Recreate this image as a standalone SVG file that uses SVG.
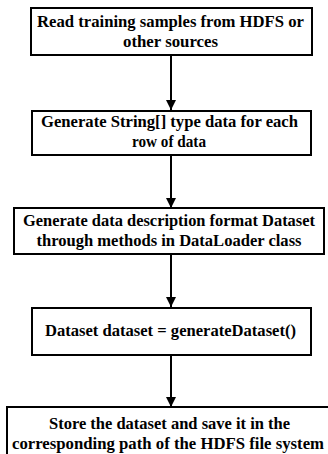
<svg xmlns="http://www.w3.org/2000/svg" width="328" height="454" viewBox="0 0 328 454">
<defs>
<style>
.box{fill:#fff;stroke:#000;stroke-width:2}
.t{font-weight:bold;font-size:17.5px;text-anchor:middle;fill:#000}
.c{stroke:#000;stroke-width:2;fill:none}
</style>
<marker id="ah" viewBox="0 0 10 10" refX="10" refY="5" markerWidth="10" markerHeight="10" markerUnits="userSpaceOnUse" orient="auto">
<path d="M0,0 L10,5 L0,10 Z" fill="#000"/>
</marker>
</defs>
<rect width="328" height="454" fill="#fff"/>
<g id="connectors">
<line class="c" x1="171" y1="55" x2="171" y2="110" marker-end="url(#ah)"/>
<line class="c" x1="171" y1="155" x2="171" y2="208" marker-end="url(#ah)"/>
<line class="c" x1="171" y1="254" x2="171" y2="307" marker-end="url(#ah)"/>
<line class="c" x1="171" y1="356" x2="171" y2="407" marker-end="url(#ah)"/>
</g>
<g font-family="'Liberation Serif', 'Times New Roman', Tinos, serif">
<g id="n1">
<rect class="box" x="31" y="8" width="281" height="47"/>
<text class="t" x="170.5" y="27" textLength="267" lengthAdjust="spacingAndGlyphs">Read training samples from HDFS or</text>
<text class="t" x="170.5" y="47" textLength="95" lengthAdjust="spacingAndGlyphs">other sources</text>
</g>
<g id="n2">
<rect class="box" x="32" y="111" width="279" height="44"/>
<text class="t" x="169.5" y="127" textLength="257" lengthAdjust="spacingAndGlyphs">Generate String[] type data for each</text>
<text class="t" x="169" y="147" textLength="74" lengthAdjust="spacingAndGlyphs">row of data</text>
</g>
<g id="n3">
<rect class="box" x="14" y="208" width="310" height="46"/>
<text class="t" x="169" y="226" textLength="292" lengthAdjust="spacingAndGlyphs">Generate data description format Dataset</text>
<text class="t" x="169" y="246" textLength="265" lengthAdjust="spacingAndGlyphs">through methods in DataLoader class</text>
</g>
<g id="n4">
<rect class="box" x="32" y="308" width="279" height="47"/>
<text class="t" x="170.5" y="336" textLength="251" lengthAdjust="spacingAndGlyphs">Dataset dataset = generateDataset()</text>
</g>
<g id="n5">
<rect class="box" x="7" y="407" width="325" height="60"/>
<text class="t" x="169.5" y="429" textLength="241" lengthAdjust="spacingAndGlyphs">Store the dataset and save it in the</text>
<text class="t" x="168" y="449" textLength="312" lengthAdjust="spacingAndGlyphs">corresponding path of the HDFS file system</text>
</g>
</g>
</svg>
